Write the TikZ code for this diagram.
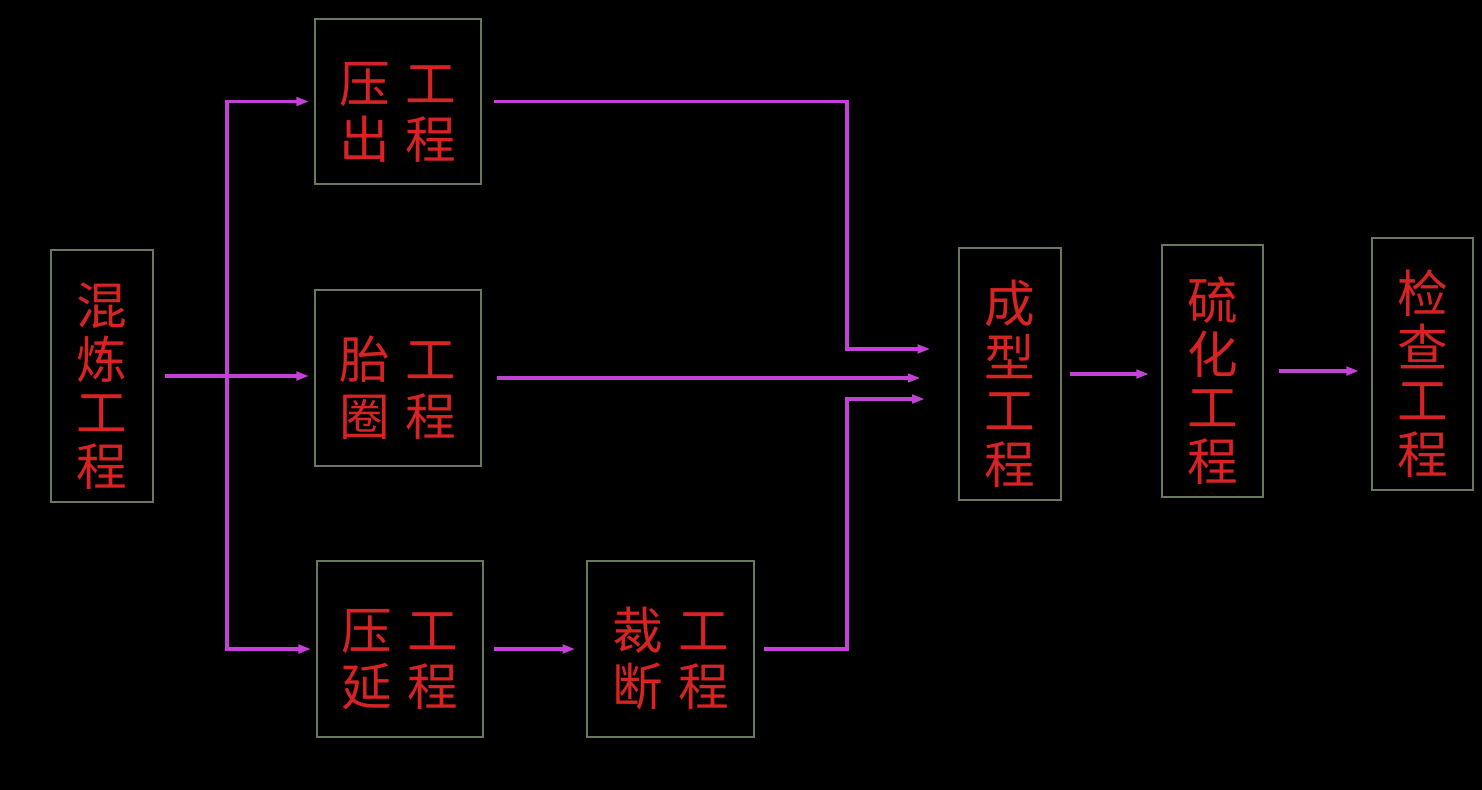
\documentclass[tikz,border=0pt]{standalone}
\usepackage{fontspec}
\newfontfamily\cjk{Noto Sans CJK SC}
\usetikzlibrary{positioning,arrows.meta,calc}
\definecolor{boxline}{RGB}{105,120,95}
\definecolor{boxtext}{RGB}{215,35,35}
\definecolor{flow}{RGB}{195,65,215}
\newcommand{\toppad}{\rule{0pt}{44pt}}

\begin{document}
\begin{tikzpicture}[x=0.025cm,y=-0.025cm,
    proc/.style={rectangle,draw=boxline,line width=1.4pt,inner sep=0pt,text=boxtext,align=center,
                 font=\cjk\fontsize{36}{38}\selectfont},
    tall/.style={proc,minimum width=2.53cm,minimum height=6.3cm},
    wide/.style={proc,minimum width=4.15cm,minimum height=4.4cm,font=\cjk\fontsize{36}{40}\selectfont},
    arrow/.style={-{Triangle[length=9pt,width=6pt]},draw=flow,line width=2.8pt,shorten <=8pt,shorten >=3.5pt}
]
\fill[black] (0,0) rectangle (1482,790);

\node[tall] (mix)       at (102,376)    {\toppad{}混\\炼\\工\\程};
\node[wide,minimum height=4.12cm] (yachu) at (398,101.5) {\toppad{}压\hspace{11pt}工\\出\hspace{11pt}程};
\node[wide] (taiquan)   at (398,378)    {\toppad{}胎\hspace{11pt}工\\圈\hspace{11pt}程};
\node[wide] (yayan)     at (400,649)    {\toppad{}压\hspace{11pt}工\\延\hspace{11pt}程};
\node[wide] (caiduan)   at (670.5,649)  {\toppad{}裁\hspace{11pt}工\\断\hspace{11pt}程};
\node[tall] (chengxing) at (1010,374)   {\toppad{}成\\型\\工\\程};
\node[tall] (liuhua)    at (1212.5,371) {\toppad{}硫\\化\\工\\程};
\node[tall] (jiancha)   at (1422.5,364) {\toppad{}检\\查\\工\\程};

\coordinate (split) at (227,376);
\coordinate (merge) at (847,376);

\draw[arrow] (mix.east) -- (mix.east -| taiquan.west);
\draw[arrow,shorten <=0pt] (split) |- (yachu.west);
\draw[arrow,shorten <=0pt] (split) |- (yayan.west);
\draw[arrow,shorten <=7pt,shorten >=8pt] (yayan) -- (caiduan);
\draw[arrow,shorten <=8.5pt,shorten >=20pt] (yachu.east) -| ($(merge)+(0,-27)$) -- ($(chengxing.west)+(0,-25)$);
\draw[arrow,shorten <=11pt,shorten >=27pt] (taiquan.east) -- (taiquan.east -| chengxing.west);
\draw[arrow,shorten <=7pt,shorten >=24pt] (caiduan.east) -| ($(merge)+(0,23)$) -- ($(chengxing.west)+(0,25)$);
\draw[arrow,shorten <=5.7pt,shorten >=8.5pt] (chengxing.east) -- (chengxing.east -| liuhua.west);
\draw[arrow,shorten <=10.7pt,shorten >=8.5pt] (liuhua.east) -- (liuhua.east -| jiancha.west);
\end{tikzpicture}
\end{document}
